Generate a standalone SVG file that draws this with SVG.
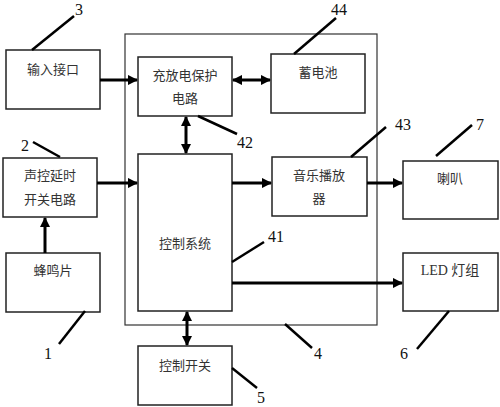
<svg xmlns="http://www.w3.org/2000/svg" width="500" height="407" viewBox="0 0 500 407">
<defs>
<marker id="ah" viewBox="0 0 10 10" refX="9" refY="5" markerWidth="3.5" markerHeight="3.5" orient="auto-start-reverse" markerUnits="strokeWidth">
<path d="M0,0 L10,5 L0,10 z" fill="#000"/>
</marker>
<style>
.box{fill:#fff;stroke:#222;stroke-width:1.5}
.outer{fill:none;stroke:#333;stroke-width:1.2}
.t{font-family:"Noto Sans CJK SC","Liberation Serif",serif;font-size:13px;fill:#333;text-anchor:middle}
.n{font-family:"Liberation Serif",serif;font-size:16px;fill:#111}
.c{stroke:#000;stroke-width:3;fill:none}
.a{stroke:#000;stroke-width:3;fill:none;marker-end:url(#ah)}
.b{stroke:#000;stroke-width:3;fill:none;marker-start:url(#ah);marker-end:url(#ah)}
.l{stroke:#000;stroke-width:2.5;fill:none}
</style>
</defs>
<rect class="outer" x="125" y="34" width="252" height="291"/>
<g id="n3"><rect class="box" x="6" y="50" width="94" height="59"/><text class="t" x="53" y="74">输入接口</text></g>
<g id="n42"><rect class="box" x="138" y="57" width="94" height="59"/><text class="t" x="185" y="80">充放电保护</text><text class="t" x="185" y="103">电路</text></g>
<g id="n44"><rect class="box" x="271" y="54" width="94" height="59"/><text class="t" x="318" y="77">蓄电池</text></g>
<g id="n2"><rect class="box" x="3" y="158" width="94" height="59"/><text class="t" x="50" y="180">声控延时</text><text class="t" x="50" y="204">开关电路</text></g>
<g id="n41"><rect class="box" x="138" y="154" width="94" height="157"/><text class="t" x="185" y="248">控制系统</text></g>
<g id="n43"><rect class="box" x="272" y="157" width="95" height="59"/><text class="t" x="319" y="180">音乐播放</text><text class="t" x="319" y="203">器</text></g>
<g id="n7"><rect class="box" x="403" y="161" width="95" height="58"/><text class="t" x="450" y="183">喇叭</text></g>
<g id="n1"><rect class="box" x="6" y="253" width="94" height="59"/><text class="t" x="53" y="275">蜂鸣片</text></g>
<g id="n6"><rect class="box" x="403" y="253" width="95" height="58"/><text class="t" x="450" y="275" style="font-family:'Liberation Serif','Noto Sans CJK SC',serif;font-size:14px">LED 灯组</text></g>
<g id="n5"><rect class="box" x="138" y="346" width="94" height="59"/><text class="t" x="185" y="370">控制开关</text></g>
<g id="connectors">
<line class="a" x1="100" y1="80" x2="137" y2="80"/>
<line class="b" x1="233" y1="80" x2="270" y2="80"/>
<line class="b" x1="186" y1="117" x2="186" y2="153"/>
<line class="a" x1="97" y1="183" x2="137" y2="183"/>
<line class="a" x1="45" y1="253" x2="45" y2="218"/>
<line class="a" x1="232" y1="183" x2="271" y2="183"/>
<line class="a" x1="367" y1="183" x2="402" y2="183"/>
<line class="a" x1="232" y1="283" x2="402" y2="283"/>
<line class="b" x1="187" y1="312" x2="187" y2="345"/>
</g>
<g id="labels">
<line class="l" x1="32" y1="50" x2="74" y2="16"/><text class="n" x="75" y="15">3</text>
<line class="l" x1="294" y1="54" x2="336" y2="18"/><text class="n" x="331" y="15">44</text>
<line class="l" x1="198" y1="116" x2="237" y2="134"/><text class="n" x="237" y="148">42</text>
<line class="l" x1="33" y1="142" x2="60" y2="157"/><text class="n" x="21" y="151">2</text>
<line class="l" x1="351" y1="157" x2="386" y2="127"/><text class="n" x="395" y="130">43</text>
<line class="l" x1="436" y1="156" x2="472" y2="125"/><text class="n" x="476" y="130">7</text>
<line class="l" x1="232" y1="262" x2="264" y2="242"/><text class="n" x="268" y="242">41</text>
<line class="l" x1="85" y1="311" x2="59" y2="344"/><text class="n" x="44" y="359">1</text>
<line class="l" x1="285" y1="324" x2="312" y2="348"/><text class="n" x="314" y="359">4</text>
<line class="l" x1="449" y1="311" x2="417" y2="349"/><text class="n" x="400" y="359">6</text>
<line class="l" x1="232" y1="368" x2="257" y2="388"/><text class="n" x="257" y="403">5</text>
</g>
</svg>
